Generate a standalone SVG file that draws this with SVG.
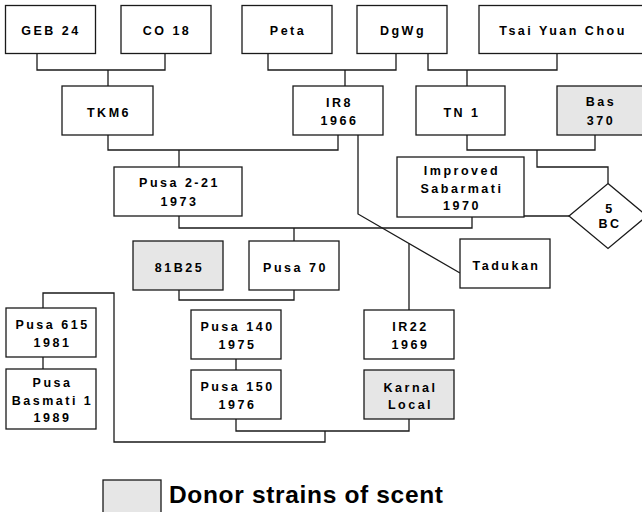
<svg xmlns="http://www.w3.org/2000/svg" width="642" height="512" viewBox="0 0 642 512">
  <style>
    .box { fill: #ffffff; stroke: #1a1a1a; stroke-width: 1.3; }
    .donor { fill: #e6e6e6; }
    .lbl { font-family: "Liberation Sans", Arial, Helvetica, sans-serif; font-weight: bold; font-size: 12.5px; letter-spacing: 2.5px; fill: #000000; text-anchor: middle; }
    .conn path { fill: none; stroke: #1a1a1a; stroke-width: 1.3; }
    .legend { font-family: "Liberation Sans", Arial, Helvetica, sans-serif; font-weight: bold; font-size: 24.5px; fill: #000000; }
  </style>
  <rect width="642" height="512" fill="#ffffff"/>

  <!-- connectors -->
  <g id="connectors" class="conn">
    <path d="M37,53 V70 H165 V53 M108,70 V86"/>
    <path d="M268,53 V70 H396 V53 M345,70 V86"/>
    <path d="M428,53 V70 H557 V53 M467,70 V86"/>
    <path d="M108,135 V150 H338 V135 M179,150 V167"/>
    <path d="M467,135 V150 H595 V135 M537,150 V167 H608 V183.5"/>
    <path d="M524,216 H569"/>
    <path d="M358,135 V214 L460,273"/>
    <path d="M179,216 V228 H472 V217 M294,228 V241"/>
    <path d="M179,290 V300 H294 V290"/>
    <path d="M409,243.5 V310"/>
    <path d="M236,359 V370"/>
    <path d="M43,357 V369"/>
    <path d="M43,308 V293 H114 V442 H325 V431"/>
    <path d="M236,419 V431 H409 V419"/>
  </g>

  <!-- nodes -->
  <g id="geb24"><rect class="box" x="5.5" y="5.5" width="90" height="48"/><text class="lbl" x="51" y="35">GEB 24</text></g>
  <g id="co18"><rect class="box" x="121" y="5.5" width="90" height="48"/><text class="lbl" x="167" y="35">CO 18</text></g>
  <g id="peta"><rect class="box" x="242" y="5.5" width="90" height="48"/><text class="lbl" x="288" y="35">Peta</text></g>
  <g id="dgwg"><rect class="box" x="357" y="5.5" width="90" height="48"/><text class="lbl" x="403" y="35">DgWg</text></g>
  <g id="tsai"><rect class="box" x="479" y="5.5" width="168" height="48"/><text class="lbl" x="563" y="35">Tsai Yuan Chou</text></g>

  <g id="tkm6"><rect class="box" x="62" y="86" width="91" height="49"/><text class="lbl" x="109" y="117">TKM6</text></g>
  <g id="ir8"><rect class="box" x="293" y="86" width="90" height="49"/><text class="lbl" x="339.5" y="107">IR8</text><text class="lbl" x="339.5" y="125">1966</text></g>
  <g id="tn1"><rect class="box" x="416" y="86" width="89" height="49"/><text class="lbl" x="462" y="117">TN 1</text></g>
  <g id="bas370"><rect class="box donor" x="557" y="86" width="90" height="49"/><text class="lbl" x="601" y="106">Bas</text><text class="lbl" x="601" y="125">370</text></g>

  <g id="pusa221"><rect class="box" x="114" y="167" width="128" height="49"/><text class="lbl" x="179.5" y="187">Pusa 2-21</text><text class="lbl" x="179.5" y="205.5">1973</text></g>
  <g id="improved-sabarmati"><rect class="box" x="397" y="157" width="127" height="60"/><text class="lbl" x="462" y="175">Improved</text><text class="lbl" x="462" y="193">Sabarmati</text><text class="lbl" x="462" y="210">1970</text></g>
  <g id="bc5"><polygon class="box" points="608,183.5 647,216 608,248.5 569,216"/><text class="lbl" x="610" y="213">5</text><text class="lbl" x="610" y="228">BC</text></g>

  <g id="b8125"><rect class="box donor" x="133" y="241" width="90" height="49"/><text class="lbl" x="179.5" y="271.5">81B25</text></g>
  <g id="pusa70"><rect class="box" x="249" y="241" width="90" height="49"/><text class="lbl" x="295.5" y="271.5">Pusa 70</text></g>
  <g id="tadukan"><rect class="box" x="460" y="239" width="90" height="49"/><text class="lbl" x="506.5" y="270">Tadukan</text></g>

  <g id="pusa615"><rect class="box" x="6" y="308" width="90" height="49"/><text class="lbl" x="52.5" y="328.5">Pusa 615</text><text class="lbl" x="52.5" y="346.5">1981</text></g>
  <g id="pusa-basmati1"><rect class="box" x="6" y="369" width="90" height="60"/><text class="lbl" x="52.5" y="387">Pusa</text><text class="lbl" x="52.5" y="405">Basmati 1</text><text class="lbl" x="52.5" y="422">1989</text></g>
  <g id="pusa140"><rect class="box" x="191" y="310" width="90" height="49"/><text class="lbl" x="237.5" y="331">Pusa 140</text><text class="lbl" x="237.5" y="349">1975</text></g>
  <g id="pusa150"><rect class="box" x="191" y="370" width="90" height="49"/><text class="lbl" x="237.5" y="391">Pusa 150</text><text class="lbl" x="237.5" y="409">1976</text></g>
  <g id="ir22"><rect class="box" x="364" y="310" width="90" height="49"/><text class="lbl" x="410.5" y="331">IR22</text><text class="lbl" x="410.5" y="349">1969</text></g>
  <g id="karnal-local"><rect class="box donor" x="364" y="370" width="90" height="49"/><text class="lbl" x="410.5" y="392">Karnal</text><text class="lbl" x="410.5" y="409">Local</text></g>

  <!-- legend -->
  <g id="legend">
    <rect class="box donor" x="103" y="480" width="58" height="40"/>
    <text class="legend" x="169" y="503" textLength="274" lengthAdjust="spacing">Donor strains of scent</text>
  </g>
</svg>
